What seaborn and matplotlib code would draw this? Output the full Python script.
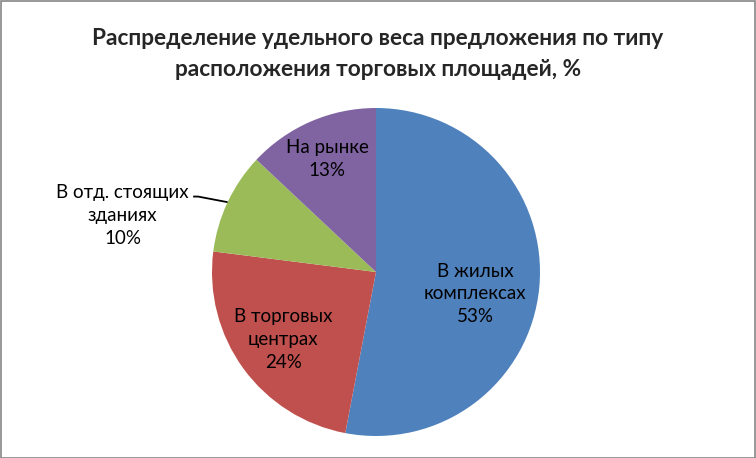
import numpy as np
import matplotlib
matplotlib.use("Agg")
import matplotlib.pyplot as plt
import seaborn as sns
from matplotlib.patches import Rectangle

categories = ["В жилых\nкомплексах", "В торговых\nцентрах", "В отд. стоящих\nзданиях", "На рынке"]
values = [53, 24, 10, 13]
colors = ["#4F81BD", "#C0504D", "#9BBB59", "#8064A2"]
title = "Распределение удельного веса предложения по типу\nрасположения торговых площадей, %"

sns.set_theme(style="white")
plt.rcParams['font.family'] = ['Lato', 'DejaVu Sans']

W, H = 756, 458
fig = plt.figure(figsize=(W / 100, H / 100), dpi=100)
cx, cy, R = 376, 272, 164
ax = fig.add_axes([(cx - R) / W, (H - cy - R) / H, 2 * R / W, 2 * R / H])

wedges, _ = ax.pie(values, colors=colors, startangle=90, counterclock=False,
                   radius=1, wedgeprops=dict(linewidth=0))
ax.set_xlim(-1, 1)
ax.set_ylim(-1, 1)
ax.set_aspect('equal')
ax.axis('off')

fs = 13.5
ls = 1.4
label_r = [0.62, 0.7, None, 0.75]
label_shift = [-7.0, 0.0, 0.0, 0.0]
for w, cat, v, r, sh in zip(wedges, categories, values, label_r, label_shift):
    mid = np.deg2rad((w.theta1 + w.theta2) / 2 + sh)
    txt = f"{cat}\n{v}%"
    if r is not None:
        ax.text(r * np.cos(mid), r * np.sin(mid), txt, ha='center', va='center',
                fontsize=fs, color='#000000', linespacing=ls)
    else:
        ex, ey = np.cos(mid), np.sin(mid)
        kx, ky = -1.085, 0.46
        ax.plot([ex, kx, kx - 0.03], [ey, ky, ky], color='black', lw=1.3,
                clip_on=False, solid_capstyle='butt')
        ax.text(-1.545, 0.345, txt, ha='center', va='center', fontsize=fs,
                color='#000000', linespacing=ls)

fig.text(0.5, 1 - 54 / H, title, ha='center', va='center', fontsize=16.3,
         fontweight='bold', linespacing=1.55)

fig.patches.append(Rectangle((0.5 / W, 0.5 / H), 1 - 1.5 / W, 1 - 1.5 / H,
                             transform=fig.transFigure, fill=False,
                             edgecolor='#868686', lw=1.2))
fig.savefig("out.png", dpi=100)
